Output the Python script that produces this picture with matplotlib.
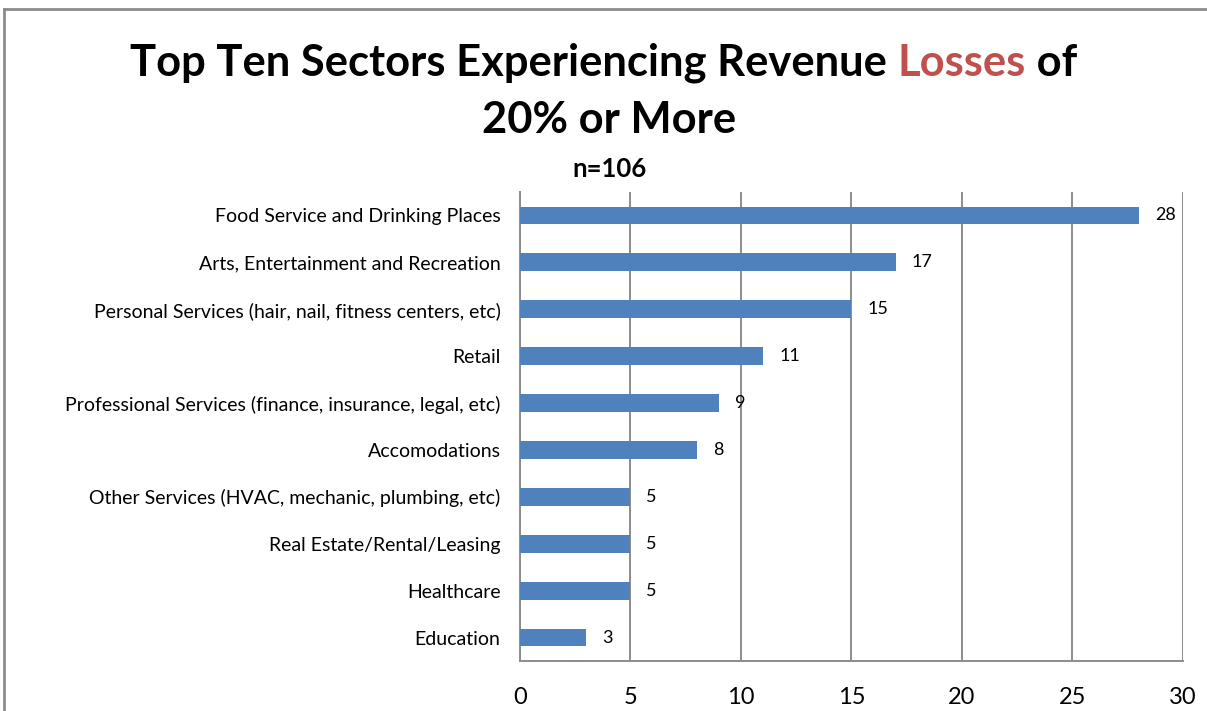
import numpy as np
import matplotlib
matplotlib.use("Agg")
import matplotlib.pyplot as plt
from matplotlib.lines import Line2D

sectors = [
    "Food Service and Drinking Places",
    "Arts, Entertainment and Recreation",
    "Personal Services (hair, nail, fitness centers, etc)",
    "Retail",
    "Professional Services (finance, insurance, legal, etc)",
    "Accomodations",
    "Other Services (HVAC, mechanic, plumbing, etc)",
    "Real Estate/Rental/Leasing",
    "Healthcare",
    "Education",
]
counts = [28, 17, 15, 11, 9, 8, 5, 5, 5, 3]
xticks = [0, 5, 10, 15, 20, 25, 30]

plt.rcParams['font.family'] = ['Lato', 'DejaVu Sans']

fig = plt.figure(figsize=(12.07, 7.11), dpi=100)
ax = fig.add_axes([0.4308, 0.0703, 0.5493, 0.6597])

y = np.arange(len(sectors))
ax.barh(y, counts, height=0.38, color='#4F81BD', zorder=3)
for yi, v in zip(y, counts):
    ax.annotate(str(v), (v, yi), xytext=(16, 0), textcoords='offset pixels',
                va='center', ha='left', fontsize=13, color='black', zorder=4)

ax.set_xlim(0, 30)
ax.set_ylim(len(sectors) - 0.5, -0.5)
ax.set_xticks(xticks)
ax.set_yticks(y)
ax.set_yticklabels(sectors, fontsize=14)
ax.tick_params(axis='x', length=0, pad=19, labelsize=17)
ax.tick_params(axis='y', length=0, pad=14)
ax.xaxis.grid(True, color='#8C8C8C', linewidth=1.4, zorder=0)
for s in ['top', 'right']:
    ax.spines[s].set_visible(False)
for s in ['left', 'bottom']:
    ax.spines[s].set_color('#8C8C8C')
    ax.spines[s].set_linewidth(1.4)

# outer frame (top and left edges)
fig.add_artist(Line2D([0.003, 0.003], [0, 0.987], transform=fig.transFigure,
                      color='#8C8C8C', linewidth=2))
fig.add_artist(Line2D([0.003, 1.0], [0.987, 0.987], transform=fig.transFigure,
                      color='#8C8C8C', linewidth=2))

# title, with "Losses" in red
title_kw = dict(fontsize=31.3, fontweight='bold', va='center', transform=fig.transFigure)
parts = [("Top Ten Sectors Experiencing Revenue ", 'black'),
         ("Losses", '#C0504D'),
         (" of", 'black')]
renderer = fig.canvas.get_renderer()
texts = [fig.text(0, 0.912, p, color=c, ha='left', **title_kw) for p, c in parts]
widths = [t.get_window_extent(renderer).width for t in texts]
fw = fig.get_figwidth() * fig.dpi
x0 = (fw - sum(widths)) / 2 / fw
for t, w in zip(texts, widths):
    t.set_x(x0)
    x0 += w / fw
fig.text(0.505, 0.831, "20% or More", ha='center', color='black', **title_kw)
fig.text(0.505, 0.763, "n=106", ha='center', va='center', fontsize=18.5,
         fontweight='bold', color='black')

fig.savefig('out.png', dpi=100)
